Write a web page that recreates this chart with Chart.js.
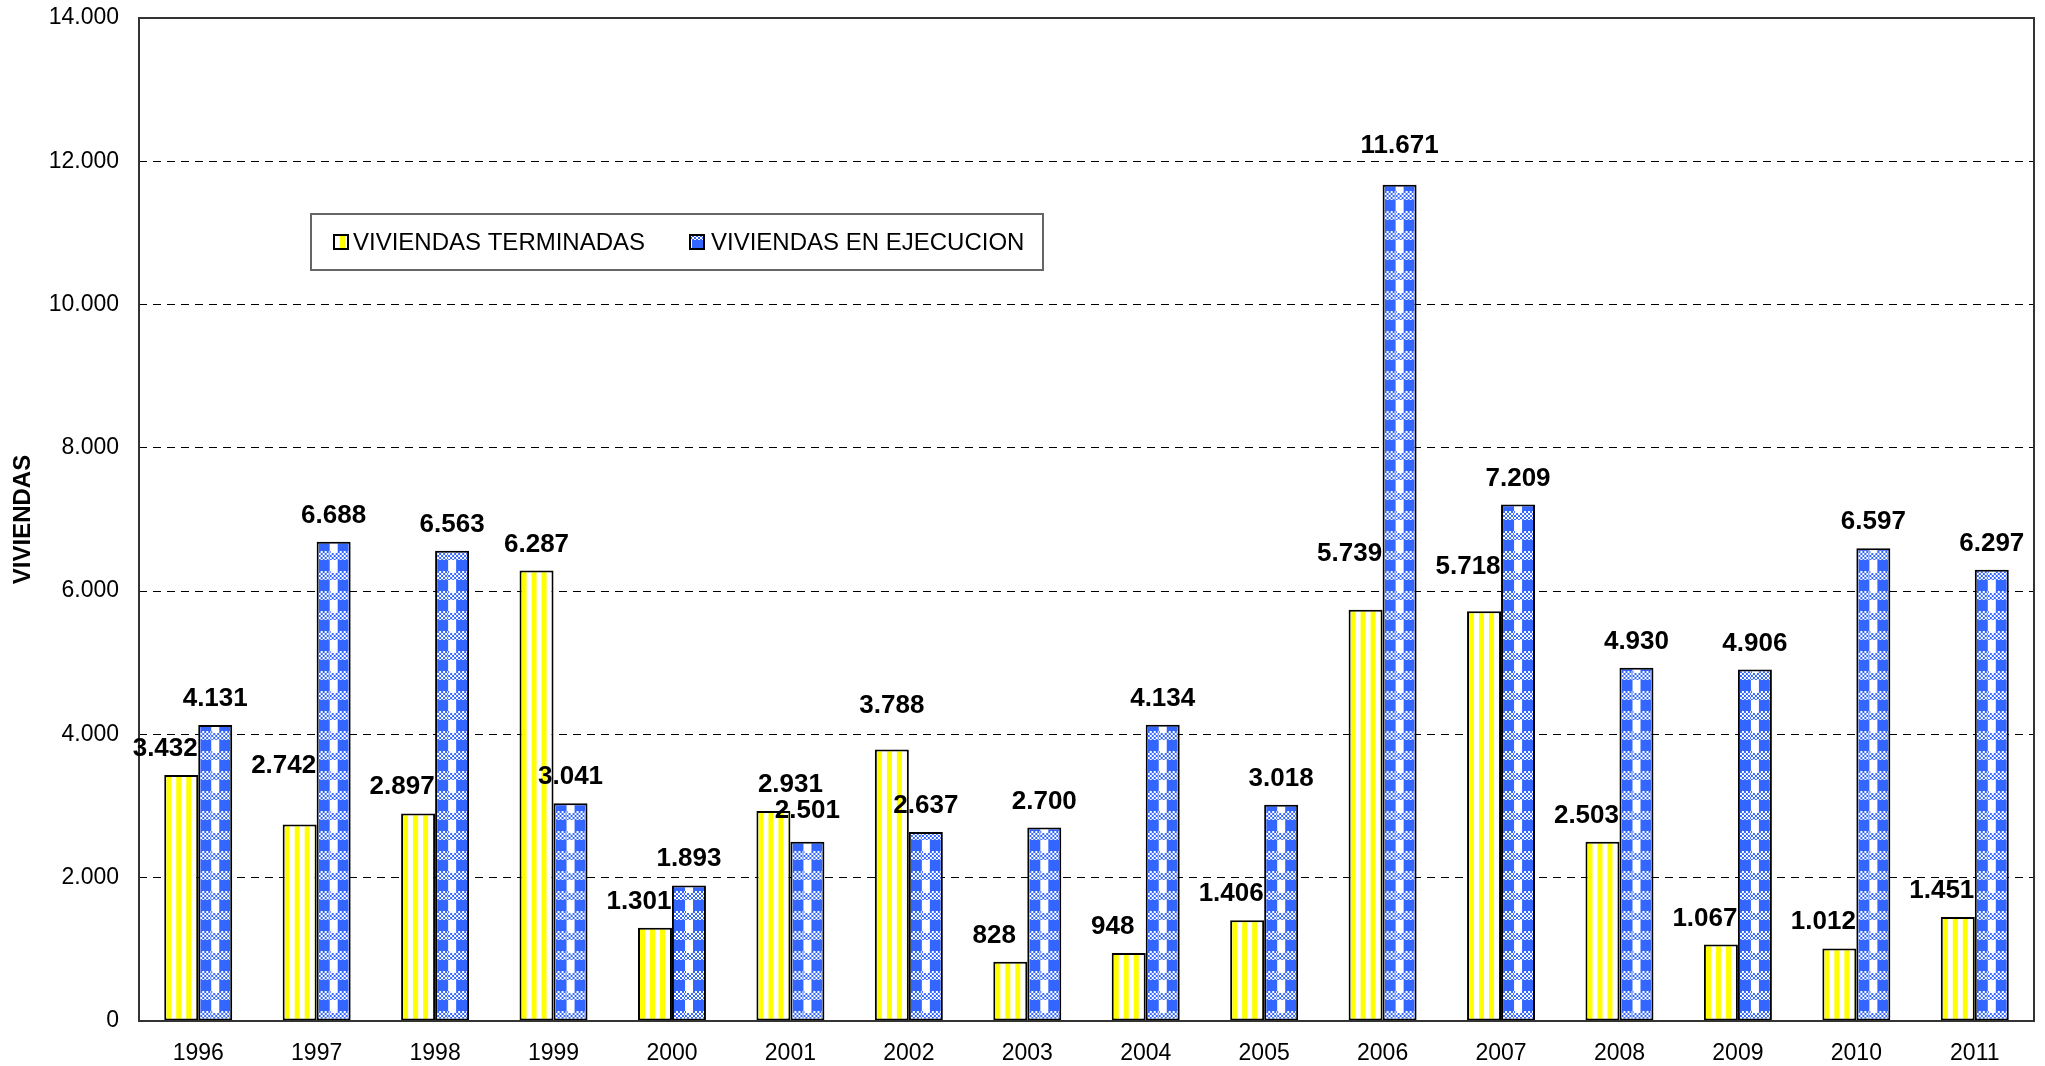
<!DOCTYPE html>
<html>
<head>
<meta charset="utf-8">
<script src="https://cdn.jsdelivr.net/npm/chart.js@4/dist/chart.umd.min.js"></script>
<style>
  html, body { margin: 0; padding: 0; background: #fff; }
  .cv-frame { width: 2045px; height: 1066px; position: relative; }
</style>
</head>
<body>
<div class="cv-frame"><canvas id="chart"></canvas></div>
<script>
// data
const years = ['1996', '1997', '1998', '1999', '2000', '2001', '2002', '2003',
               '2004', '2005', '2006', '2007', '2008', '2009', '2010', '2011'];
const terminadas = [3432, 2742, 2897, 6287, 1301, 2931, 3788, 828, 948, 1406, 5739, 5718, 2503, 1067, 1012, 1451];
const ejecucion = [4131, 6688, 6563, 3041, 1893, 2501, 2637, 2700, 4134, 3018, 11671, 7209, 4930, 4906, 6597, 6297];
const seriesNames = ['VIVIENDAS TERMINADAS', 'VIVIENDAS EN EJECUCION'];
const yTicks = [0, 2000, 4000, 6000, 8000, 10000, 12000, 14000];

const FONT = '"Liberation Sans", Arial, Helvetica, sans-serif';
const YELLOW = '#ffff00';
const BLUE = '#3366ff';

const fmt = v => String(v).replace(/\B(?=(\d{3})+(?!\d))/g, '.');

// a few labels were moved by hand in the original
const labelNudge = {
  '0:1997': [0, -33], '0:2001': [17, 0], '0:2002': [0, -18],
  '0:2006': [0, -30], '0:2007': [0, -18],
  '1:2006': [0, -13], '1:2001': [0, -5]
};

// pattern tiles
function stripeTile() {
  const c = document.createElement('canvas');
  c.width = 10; c.height = 10;
  const g = c.getContext('2d');
  g.fillStyle = '#fff'; g.fillRect(0, 0, 10, 10);
  g.fillStyle = YELLOW; g.fillRect(0, 0, 5, 10);
  return c;
}
function checkTile() {
  const c = document.createElement('canvas');
  c.width = 19; c.height = 20;
  const g = c.getContext('2d');
  g.fillStyle = BLUE; g.fillRect(0, 0, 19, 20);
  // solid band: white column in the middle
  g.fillStyle = '#fff'; g.fillRect(0, 0, 8, 11);
  // speckled band
  for (let y = 11; y < 20; y += 2) {
    for (let x = 0; x < 19; x += 2) {
      if (((x + y) / 2 | 0) % 2 === 0) g.fillRect(x, y, 2, 2);
    }
  }
  g.fillRect(1, 11, 6, 2);
  return c;
}
const tiles = [stripeTile(), checkTile()];

function barFill(ds) {
  return (context) => {
    const ctx = context.chart.ctx;
    const p = ctx.createPattern(tiles[ds], 'repeat');
    if (context.dataIndex === undefined || !context.chart.scales.x) return p;
    const cx = context.chart.scales.x.getPixelForValue(context.dataIndex);
    const tx = ds === 0 ? cx - 32 : cx + 17 - 4;
    p.setTransform(new DOMMatrix().translate(tx, 0));
    return p;
  };
}

const framePlugin = {
  id: 'frame',
  afterDatasetsDraw(chart) {
    const {ctx, chartArea: a} = chart;
    ctx.save();
    ctx.strokeStyle = '#333';
    ctx.lineWidth = 2;
    ctx.strokeRect(a.left, a.top, a.right - a.left, a.bottom - a.top);
    ctx.restore();
  }
};

const labelPlugin = {
  id: 'valueLabels',
  afterDatasetsDraw(chart) {
    const ctx = chart.ctx;
    ctx.save();
    ctx.font = 'bold 26px ' + FONT;
    ctx.fillStyle = '#000';
    ctx.textAlign = 'center';
    ctx.textBaseline = 'alphabetic';
    chart.data.datasets.forEach((ds, di) => {
      chart.getDatasetMeta(di).data.forEach((bar, i) => {
        let x = bar.x;
        if (di === 0 && terminadas[i] < ejecucion[i]) x -= 16;
        const n = labelNudge[di + ':' + years[i]] || [0, 0];
        ctx.fillText(fmt(ds.data[i]), x + n[0], bar.y - 19 + n[1]);
      });
    });
    ctx.restore();
  }
};

const legendPlugin = {
  id: 'boxLegend',
  afterDraw(chart) {
    const ctx = chart.ctx;
    ctx.save();
    ctx.fillStyle = '#fff';
    ctx.fillRect(311, 214, 732, 56);
    ctx.strokeStyle = '#666';
    ctx.lineWidth = 2;
    ctx.strokeRect(311, 214, 732, 56);
    const items = [{mx: 333, tx: 353}, {mx: 689, tx: 711}];
    ctx.font = '24px ' + FONT;
    ctx.textBaseline = 'middle';
    items.forEach((it, i) => {
      ctx.fillStyle = ctx.createPattern(tiles[i], 'repeat');
      ctx.fillRect(it.mx, 234, 16, 16);
      ctx.strokeStyle = '#000';
      ctx.lineWidth = 2;
      ctx.strokeRect(it.mx + 1, 235, 14, 14);
      ctx.fillStyle = '#000';
      ctx.fillText(seriesNames[i], it.tx, 243);
    });
    ctx.restore();
  }
};

new Chart(document.getElementById('chart'), {
  type: 'bar',
  data: {
    labels: years,
    datasets: [
      { label: seriesNames[0], data: terminadas, backgroundColor: barFill(0),
        borderColor: '#000', borderWidth: 2, borderSkipped: false,
        categoryPercentage: 0.574, barPercentage: 1 },
      { label: seriesNames[1], data: ejecucion, backgroundColor: barFill(1),
        borderColor: '#000', borderWidth: 2, borderSkipped: false,
        categoryPercentage: 0.574, barPercentage: 1 }
    ]
  },
  options: {
    responsive: true,
    maintainAspectRatio: false,
    animation: false,
    layout: { padding: { top: 18, right: 11, bottom: 0, left: 0 } },
    plugins: { legend: { display: false }, tooltip: { enabled: false } },
    scales: {
      x: {
        grid: { display: false, drawTicks: false },
        border: { display: false },
        ticks: { color: '#000', font: { family: FONT, size: 23 }, padding: 19, maxRotation: 0 },
        afterFit(scale) { scale.height = 45; }
      },
      y: {
        min: 0,
        max: 14000,
        afterBuildTicks(scale) { scale.ticks = yTicks.map(v => ({ value: v })); },
        grid: {
          drawTicks: false,
          lineWidth: 1,
          color: ctx => (ctx.tick && (ctx.tick.value === 0 || ctx.tick.value === 14000)) ? 'rgba(0,0,0,0)' : '#000'
        },
        border: { display: false, dash: [8, 6] },
        ticks: { color: '#000', font: { family: FONT, size: 23 }, padding: 20, callback: v => fmt(v) },
        title: {
          display: true,
          text: 'VIVIENDAS',
          color: '#000',
          font: { family: FONT, size: 24, weight: 'bold' },
          padding: { top: 9, bottom: 0 }
        },
        afterFit(scale) {
          scale.width = 139;
          scale.paddingTop = 0;
          scale.paddingBottom = 0;
        }
      }
    }
  },
  plugins: [framePlugin, labelPlugin, legendPlugin]
});
</script>
</body>
</html>
